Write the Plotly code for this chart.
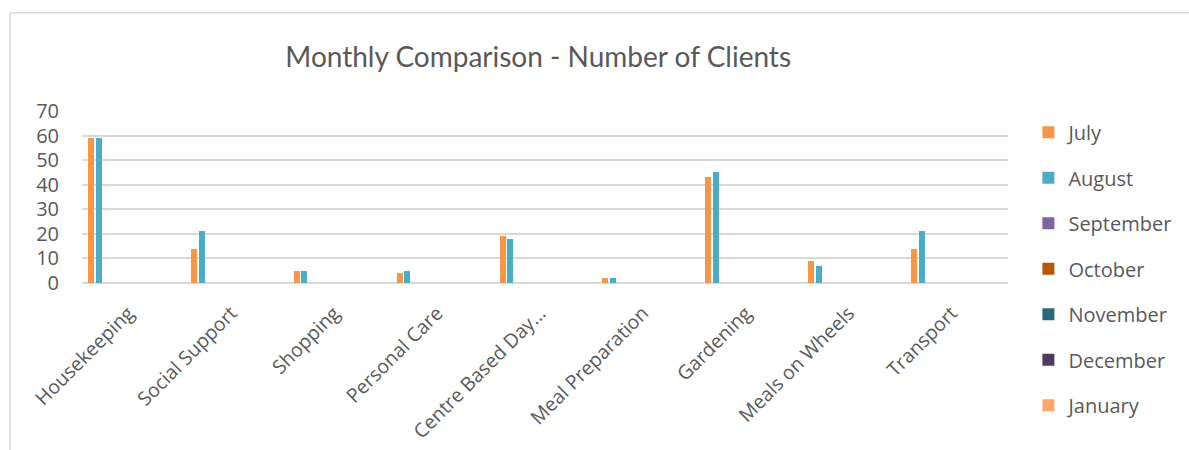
import plotly.graph_objects as go

categories = ["Housekeeping", "Social Support", "Shopping", "Personal Care",
              "Centre Based Day...", "Meal Preparation", "Gardening",
              "Meals on Wheels", "Transport"]
months = ["July", "August", "September", "October", "November", "December", "January"]
july = [59, 14, 5, 4, 19, 2, 43, 9, 14]
august = [59, 21, 5, 5, 18, 2, 45, 7, 21]
september = [None] * 9
october = [None] * 9
november = [None] * 9
december = [None] * 9
january = [None] * 9
series = [july, august, september, october, november, december, january]
colors = ["#F79646", "#4BACC6", "#8064A2", "#B65708", "#276A7C", "#4D3B62", "#F9A96B"]
y_ticks = [0, 10, 20, 30, 40, 50, 60, 70]

W, H = 1189, 450
L, R, T, B = 82, 1007.6, 111.3, 283.3

fig = go.Figure()
slot = 0.0749
for i, (name, vals, col) in enumerate(zip(months, series, colors)):
    fig.add_trace(go.Bar(
        x=categories, y=vals, name=name,
        marker=dict(color=col, line=dict(width=0)),
        width=0.058, offset=-0.4417 + i * slot,
        legendgroup=name,
    ))

def px(x):
    return (x - L) / (R - L)

def py(y):
    return (B - y) / (B - T)

grid = "#D9D9D9"
fig.update_layout(
    width=W, height=H,
    margin=dict(l=L, r=W - R, t=T, b=H - B, autoexpand=False),
    paper_bgcolor="white", plot_bgcolor="white",
    barmode="overlay",
    font=dict(family="Open Sans", color="#595959"),
    title=dict(text="Monthly Comparison - Number of Clients",
               x=px(538), xref="paper", xanchor="center",
               y=1 - 57 / H, yref="container", yanchor="middle",
               font=dict(size=28, color="#595959", family="Lato")),
    xaxis=dict(showgrid=False, tickangle=-45, ticks="", showline=False,
               tickfont=dict(size=19.5, color="#595959"), automargin=False,
               range=[-0.5, 8.5], ticklabelshift=-5, ticklabelstandoff=14),
    yaxis=dict(range=[0, 70], tickvals=y_ticks, showgrid=True, gridcolor=grid,
               gridwidth=1.5, zeroline=True, zerolinecolor=grid, zerolinewidth=1.5,
               tickfont=dict(size=20, color="#595959"), ticks="", automargin=False,
               ticklabelstandoff=22, showline=False),
    legend=dict(x=px(1028), xanchor="left", y=py(113), yanchor="top",
                font=dict(size=20, color="#595959"), traceorder="grouped",
                tracegroupgap=16.5, itemwidth=30, bgcolor="rgba(0,0,0,0)",
                maxheight=420),
    bargap=0,
    shapes=[
        dict(type="line", xref="paper", yref="paper", x0=px(10), x1=px(1200),
             y0=py(13), y1=py(13), line=dict(color=grid, width=1.5)),
        dict(type="line", xref="paper", yref="paper", x0=px(10), x1=px(10),
             y0=py(13), y1=py(460), line=dict(color=grid, width=1.5)),
    ],
)

fig.write_html("out.html")
